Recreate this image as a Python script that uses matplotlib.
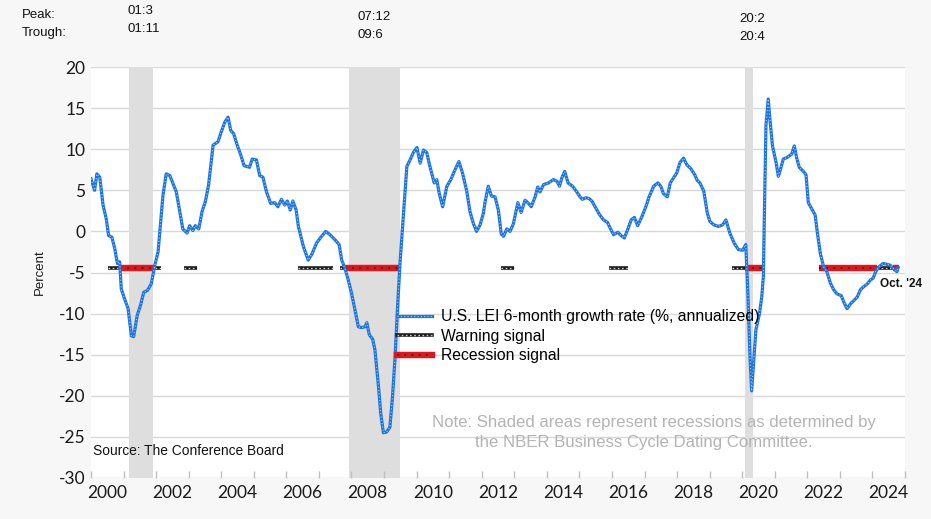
import matplotlib
matplotlib.use("Agg")
import matplotlib.pyplot as plt
from matplotlib.lines import Line2D
import numpy as np

# ---------------- data ----------------
dates = [
    2000.00, 2000.11, 2000.18, 2000.27, 2000.37, 2000.47, 2000.54, 2000.64, 2000.73, 2000.81,
    2000.88, 2000.93, 2001.03, 2001.14, 2001.24, 2001.31, 2001.42, 2001.52, 2001.62, 2001.73,
    2001.85, 2001.96, 2002.06, 2002.14, 2002.21, 2002.31, 2002.42, 2002.54, 2002.62, 2002.69,
    2002.82, 2002.95, 2003.03, 2003.13, 2003.20, 2003.31, 2003.41, 2003.51, 2003.61, 2003.75,
    2003.90, 2004.00, 2004.11, 2004.21, 2004.29, 2004.38, 2004.49, 2004.60, 2004.70, 2004.87,
    2004.95, 2005.08, 2005.18, 2005.28, 2005.39, 2005.52, 2005.64, 2005.74, 2005.85, 2005.95,
    2006.03, 2006.12, 2006.20, 2006.30, 2006.37, 2006.52, 2006.67, 2006.78, 2006.93, 2007.08,
    2007.21, 2007.34, 2007.49, 2007.62, 2007.70, 2007.80, 2007.90, 2008.00, 2008.11, 2008.21,
    2008.31, 2008.42, 2008.47, 2008.55, 2008.65, 2008.72, 2008.83, 2008.90, 2008.98, 2009.08,
    2009.18, 2009.26, 2009.34, 2009.41, 2009.49, 2009.59, 2009.70, 2009.80, 2009.90, 2010.01,
    2010.11, 2010.21, 2010.31, 2010.41, 2010.54, 2010.62, 2010.69, 2010.80, 2010.93, 2011.05,
    2011.18, 2011.30, 2011.41, 2011.54, 2011.64, 2011.74, 2011.84, 2011.95, 2012.05, 2012.10,
    2012.20, 2012.30, 2012.41, 2012.51, 2012.60, 2012.67, 2012.77, 2012.87, 2012.97, 2013.11,
    2013.21, 2013.33, 2013.44, 2013.52, 2013.64, 2013.72, 2013.79, 2013.90, 2014.05, 2014.20,
    2014.31, 2014.39, 2014.46, 2014.55, 2014.65, 2014.79, 2014.92, 2015.02, 2015.09, 2015.20,
    2015.30, 2015.40, 2015.48, 2015.61, 2015.74, 2015.86, 2015.97, 2016.05, 2016.18, 2016.28,
    2016.38, 2016.49, 2016.59, 2016.69, 2016.79, 2016.92, 2017.04, 2017.14, 2017.28, 2017.41,
    2017.50, 2017.58, 2017.70, 2017.79, 2017.89, 2017.99, 2018.09, 2018.20, 2018.30, 2018.43,
    2018.54, 2018.62, 2018.70, 2018.82, 2018.93, 2019.01, 2019.13, 2019.27, 2019.40, 2019.50,
    2019.62, 2019.75, 2019.88, 2020.01, 2020.11, 2020.17, 2020.24, 2020.29, 2020.34, 2020.42,
    2020.53, 2020.60, 2020.65, 2020.68, 2020.73, 2020.80, 2020.85, 2020.93, 2021.04, 2021.11,
    2021.18, 2021.26, 2021.38, 2021.52, 2021.60, 2021.67, 2021.75, 2021.88, 2021.96, 2022.03,
    2022.14, 2022.24, 2022.31, 2022.40, 2022.50, 2022.60, 2022.71, 2022.81, 2022.91, 2023.04,
    2023.12, 2023.22, 2023.33, 2023.43, 2023.53, 2023.63, 2023.74, 2023.84, 2023.94, 2024.02,
    2024.10, 2024.20, 2024.33, 2024.44, 2024.54, 2024.64, 2024.75, 2024.79,
]
lei_growth = [
    6.4, 5.0, 7.0, 6.6, 3.2, 1.5, -0.5, -0.7, -2.1, -3.9,
    -3.7, -7.0, -8.2, -9.4, -12.7, -12.8, -10.2, -9.0, -7.4, -7.2,
    -6.4, -4.1, -2.5, 1.1, 4.4, 7.0, 6.8, 5.6, 4.8, 3.2,
    0.3, -0.2, 0.7, 0.1, 0.7, 0.3, 2.4, 3.6, 5.6, 10.5,
    10.9, 12.1, 13.3, 13.9, 12.3, 11.9, 10.5, 9.3, 8.0, 7.8,
    8.8, 8.7, 6.8, 6.6, 4.8, 3.4, 3.5, 3.0, 3.9, 3.2,
    3.7, 2.6, 3.7, 2.6, 0.6, -1.8, -3.5, -2.8, -1.4, -0.6,
    0.0, -0.4, -1.0, -1.6, -3.5, -4.5, -5.9, -7.5, -9.6, -11.6,
    -11.7, -11.6, -11.1, -12.6, -13.1, -14.4, -18.9, -22.2, -24.5, -24.4,
    -23.8, -20.1, -15.2, -9.6, -3.9, 1.8, 7.9, 8.7, 9.6, 10.2,
    8.3, 9.9, 9.6, 7.9, 5.9, 6.3, 4.7, 3.0, 5.5, 6.3,
    7.5, 8.5, 7.1, 4.9, 2.4, 1.0, 0.0, 0.8, 2.2, 3.5,
    5.5, 4.3, 4.2, 2.6, -0.3, -0.6, 0.3, 0.0, 0.9, 3.5,
    2.3, 3.8, 3.4, 3.0, 4.2, 5.4, 4.8, 5.7, 5.9, 6.3,
    6.1, 5.5, 6.5, 7.3, 5.9, 5.5, 4.8, 4.2, 3.9, 4.1,
    4.0, 3.6, 3.0, 2.1, 1.4, 1.1, 0.2, -0.4, -0.1, -0.5,
    -0.8, 0.3, 1.4, 1.7, 0.7, 1.8, 3.0, 4.2, 5.5, 5.9,
    5.5, 4.6, 4.2, 5.9, 6.5, 7.1, 8.4, 8.9, 8.1, 7.6,
    6.9, 6.2, 5.9, 4.9, 2.2, 1.2, 0.8, 0.6, 0.8, 1.4,
    -0.2, -1.4, -2.2, -2.3, -1.6, -7.1, -15.3, -19.4, -16.5, -12.0,
    -10.0, -8.0, -5.5, 1.8, 12.9, 16.1, 13.7, 10.4, 8.4, 6.7,
    7.6, 8.8, 9.0, 9.4, 10.4, 9.0, 7.8, 7.3, 6.9, 3.5,
    2.7, 2.0, -0.2, -2.7, -4.3, -4.9, -6.3, -7.1, -7.6, -7.8,
    -8.6, -9.4, -8.8, -8.4, -8.0, -7.1, -6.7, -6.4, -5.9, -5.7,
    -4.9, -4.3, -3.9, -4.0, -4.1, -4.5, -4.9, -4.4,
]

signal_level = -4.4
warning_start = [2000.52, 2001.96, 2002.85, 2006.37, 2007.65, 2012.59, 2015.92, 2019.68, 2024.13]
warning_end   = [2000.88, 2002.16, 2003.26, 2007.44, 2007.80, 2013.00, 2016.48, 2020.10, 2024.64]
recession_start = [2000.88, 2007.80, 2020.10, 2022.37, 2024.64]
recession_end   = [2001.96, 2009.51, 2020.68, 2024.13, 2024.83]

nber_peak   = [2001.17, 2007.92, 2020.08]
nber_trough = [2001.90, 2009.48, 2020.33]
peak_labels   = ["01:3", "07:12", "20:2"]
trough_labels = ["01:11", "09:6", "20:4"]

year_ticks = list(range(2000, 2026))
year_labels = [str(y) for y in range(2000, 2025, 2)]
y_ticks = list(range(-30, 21, 5))

# ---------------- style ----------------
BLUE = "#1c74e0"
BLUE_DOT = "#a8cdf5"
RED = "#e0161c"
FONT = ["Liberation Sans", "DejaVu Sans"]
TICKFONT = ["Lato", "DejaVu Sans"]

fig = plt.figure(figsize=(9.31, 5.19), dpi=100, facecolor="#f7f7f7")
ax = fig.add_axes([91 / 931, 1 - 478 / 519, (905 - 91) / 931, (478 - 67) / 519])
ax.set_facecolor("white")

ax.set_xlim(2000, 2025)
ax.set_ylim(-30, 20)

for p, t in zip(nber_peak, nber_trough):
    ax.axvspan(p, t, color="#dedede", lw=0, zorder=1)

for yv in y_ticks:
    ax.axhline(yv, color="#d9d9d9", lw=1, zorder=0.5)

# signals
for s, e in zip(warning_start, warning_end):
    ax.plot([s, e], [signal_level, signal_level], color="#1a1a1a", lw=2.6, zorder=3,
            solid_capstyle="butt")
    ax.plot([s, e], [signal_level, signal_level], color="#c8c8c8", lw=1.0, zorder=3.1,
            linestyle=(0, (1.2, 1.8)))
for s, e in zip(recession_start, recession_end):
    ax.plot([s, e], [signal_level, signal_level], color=RED, lw=4.6, zorder=3.2,
            solid_capstyle="butt")
    ax.plot([s, e], [signal_level, signal_level], color="#6a0000", lw=1.3, zorder=3.3,
            linestyle=(0, (1, 3)))

ax.plot(dates, lei_growth, color=BLUE, lw=2.3, zorder=4, solid_joinstyle="round")
ax.plot(dates, lei_growth, color=BLUE_DOT, lw=0.8, zorder=4.1, linestyle=(0, (1, 2)))

for sp in ax.spines.values():
    sp.set_visible(False)

ax.set_xticks(year_ticks)
ax.set_xticklabels([])
ax.tick_params(axis="x", which="major", direction="in", length=5, color="#bfbfbf", width=1)
ax.set_xticks([y + 0.5 for y in range(2000, 2025, 2)], minor=True)
ax.set_xticklabels(year_labels, minor=True, fontsize=12.5, family=TICKFONT, color="#1a1a1a")
ax.tick_params(axis="x", which="minor", length=0, pad=5)

ax.set_yticks(y_ticks)
ax.set_yticklabels([str(v) for v in y_ticks], fontsize=12.5, family=TICKFONT, color="#1a1a1a")
ax.tick_params(axis="y", length=0, pad=4)

ax.set_ylabel("Percent", fontsize=9.5, family=FONT, color="#1a1a1a", labelpad=9.5)

# legend
h_lei = (Line2D([], [], color=BLUE, lw=2.3), Line2D([], [], color=BLUE_DOT, lw=0.8, linestyle=(0, (1, 2))))
h_warn = (Line2D([], [], color="#1a1a1a", lw=2.6), Line2D([], [], color="#c8c8c8", lw=1.0, linestyle=(0, (1.2, 1.8))))
h_rec = (Line2D([], [], color=RED, lw=4.6), Line2D([], [], color="#6a0000", lw=1.3, linestyle=(0, (1, 3))))
leg = fig.legend([h_lei, h_warn, h_rec],
                 ["U.S. LEI 6-month growth rate (%, annualized)", "Warning signal", "Recession signal"],
                 loc="upper left", bbox_to_anchor=(397 / 931, 1 - 309 / 519),
                 frameon=False, prop={"family": FONT, "size": 11.3},
                 handlelength=2.2, handletextpad=0.6, labelspacing=0.3, borderpad=0, borderaxespad=0)

# annotations
fig.text(93 / 931, 1 - 451 / 519, "Source: The Conference Board", fontsize=9.9, family=FONT,
         color="#111111", va="center", ha="left")
fig.text(432 / 931, 1 - 422 / 519, "Note: Shaded areas represent recessions as determined by",
         fontsize=12.1, family=FONT, color="#b4b4b4", va="center", ha="left")
fig.text(475 / 931, 1 - 443 / 519, "the NBER Business Cycle Dating Committee.",
         fontsize=12.1, family=FONT, color="#b4b4b4", va="center", ha="left")
fig.text(880 / 931, 1 - 284 / 519, "Oct. '24", fontsize=8.5, family=FONT, weight="bold",
         color="#111111", va="center", ha="left")

fig.text(22 / 931, 1 - 15 / 519, "Peak:", fontsize=9.5, family=FONT, color="#111111", va="center")
fig.text(22 / 931, 1 - 33 / 519, "Trough:", fontsize=9.5, family=FONT, color="#111111", va="center")
peak_px = [128, 358, 739]
peak_py = [(11, 29), (17, 35), (19, 37)]
for x, (y1, y2), pl, tl in zip(peak_px, peak_py, peak_labels, trough_labels):
    fig.text(x / 931, 1 - y1 / 519, pl, fontsize=9.5, family=FONT, color="#111111", va="center")
    fig.text(x / 931, 1 - y2 / 519, tl, fontsize=9.5, family=FONT, color="#111111", va="center")

fig.savefig("out.png", dpi=100, facecolor=fig.get_facecolor())
